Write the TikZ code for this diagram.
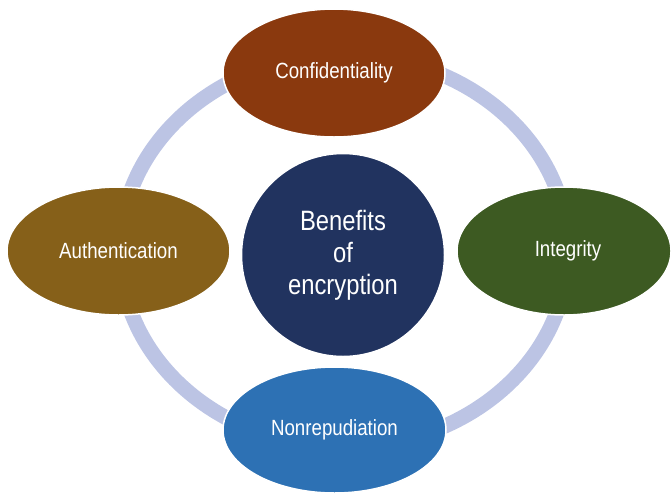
\documentclass[tikz,border=0pt]{standalone}
\usepackage{fontspec}
\setmainfont{Liberation Sans}[FakeStretch=0.85]
\usetikzlibrary{shapes.geometric}
\definecolor{ringc}{HTML}{BCC4E4}
\definecolor{confc}{HTML}{8A390E}
\definecolor{authc}{HTML}{866019}
\definecolor{integc}{HTML}{3D5A22}
\definecolor{nonrc}{HTML}{2D71B4}
\definecolor{centc}{HTML}{21335F}
\tikzset{
  benefit/.style={ellipse, draw=white, line width=1.5pt, inner sep=0pt,
    text=white, font=\fontsize{22}{26}\selectfont},
  hub/.style={circle, draw=white, line width=1.5pt, inner sep=0pt,
    minimum size=203pt, fill=centc, text=white, align=center,
    font=\fontsize{28}{32}\selectfont}
}
\begin{document}
\begin{tikzpicture}[x=1pt,y=-1pt]
\useasboundingbox (0,0) rectangle (671,493);
\draw[ringc, line width=15pt] (344,251) ellipse [x radius=224, y radius=196];
\node[hub] (hub) at (343,255) {Benefits\\of\\encryption};
\node[benefit, fill=confc, minimum width=222pt, minimum height=128pt] (conf) at (334,73) {Confidentiality};
\node[benefit, fill=authc, minimum width=223pt, minimum height=128pt] (auth) at (118.5,251) {Authentication};
\node[benefit, fill=integc, minimum width=214pt, minimum height=128pt] (integ) at (564,251) {\hspace{8pt}Integrity};
\node[benefit, fill=nonrc, minimum width=223pt, minimum height=126pt] (nonr) at (334.5,430) {Nonrepudiation};
\end{tikzpicture}
\end{document}
